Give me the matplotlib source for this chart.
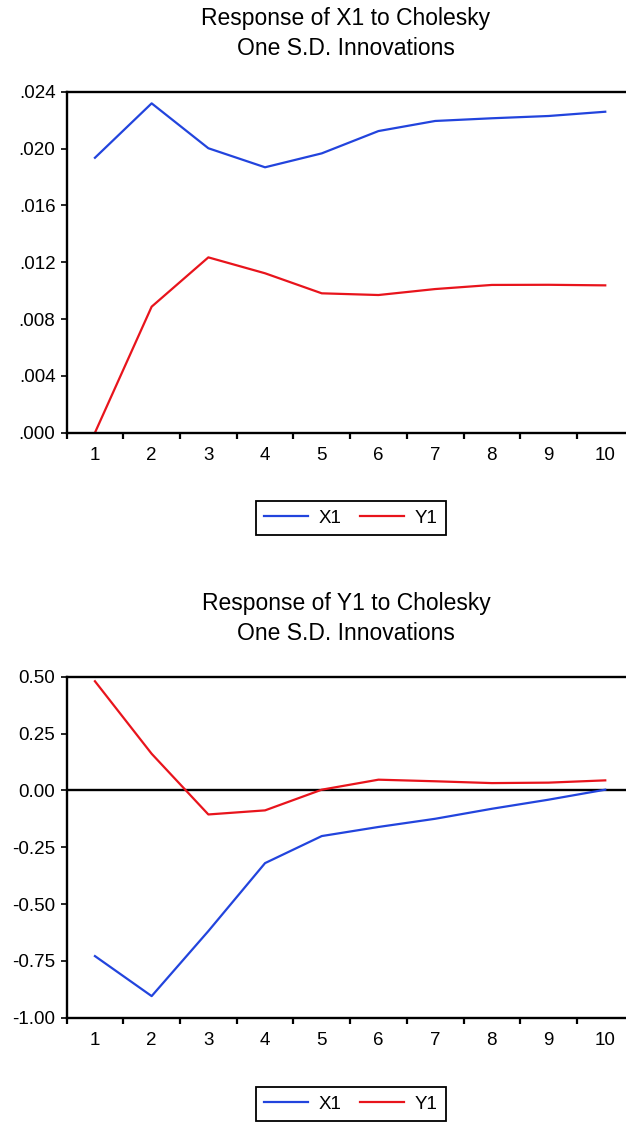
import numpy as np
import matplotlib
matplotlib.use("Agg")
import matplotlib.pyplot as plt
from matplotlib.ticker import FuncFormatter, FixedLocator

plt.rcParams['font.family'] = ['Liberation Sans', 'DejaVu Sans']

# periods
periods = np.arange(1, 11)

# response of X1
x1_to_x1 = [0.01935, 0.02318, 0.02002, 0.01868, 0.01966, 0.02123, 0.02194, 0.02213, 0.02229, 0.02259]
x1_to_y1 = [0.0000, 0.00887, 0.01234, 0.01122, 0.00981, 0.00969, 0.01011, 0.01040, 0.01041, 0.01037]

# response of Y1
y1_to_x1 = [-0.729, -0.905, -0.619, -0.320, -0.201, -0.161, -0.125, -0.081, -0.041, 0.003]
y1_to_y1 = [0.480, 0.161, -0.106, -0.088, 0.003, 0.047, 0.040, 0.032, 0.034, 0.044]

series_names = ['X1', 'Y1']
blue = '#2244dd'
red = '#e8141c'

W, H = 626, 1123
fig = plt.figure(figsize=(W / 100, H / 100), dpi=100)

left = 66.6 / W
width = 1 - left
ax_h = 341.0 / H


def fmt_top(v, pos):
    s = '%.3f' % v
    return s[1:] if s.startswith('0') else s


def fmt_bot(v, pos):
    return '%.2f' % v


def style_axes(ax, yticks, fmt):
    ax.set_xlim(0.5, 0.5 + (W - 66.6) / 56.7)
    ax.spines['right'].set_visible(False)
    for s in ['left', 'bottom', 'top']:
        ax.spines[s].set_linewidth(1.7)
    ax.xaxis.set_major_locator(FixedLocator(periods))
    ax.xaxis.set_minor_locator(FixedLocator(np.arange(0.5, 11, 1.0)))
    ax.tick_params(axis='x', which='major', length=0, pad=10.5, labelsize=13.5)
    ax.tick_params(axis='x', which='minor', length=4.5, width=1.6, direction='out')
    ax.set_yticks(yticks)
    ax.yaxis.set_major_formatter(FuncFormatter(fmt))
    ax.tick_params(axis='y', length=4.5, width=1.2, direction='out', pad=3.5, labelsize=13.5)


# top panel
ax1 = fig.add_axes([left, 1 - 432.7 / H, width, ax_h])
ax1.plot(periods, x1_to_x1, color=blue, lw=1.6, label=series_names[0])
ax1.plot(periods, x1_to_y1, color=red, lw=1.6, label=series_names[1])
ax1.set_ylim(0, 0.024)
style_axes(ax1, np.arange(0, 0.0241, 0.004), fmt_top)

# bottom panel
ax2 = fig.add_axes([left, 1 - 1017.7 / H, width, ax_h])
ax2.axhline(0, color='black', lw=1.7)
ax2.plot(periods, y1_to_x1, color=blue, lw=1.6, label=series_names[0])
ax2.plot(periods, y1_to_y1, color=red, lw=1.6, label=series_names[1])
ax2.set_ylim(-1.0, 0.5)
style_axes(ax2, np.arange(-1.0, 0.51, 0.25), fmt_bot)

cx = 346 / W
titles = [("Response of X1 to Cholesky", 25), ("One S.D. Innovations", 55),
          ("Response of Y1 to Cholesky", 610), ("One S.D. Innovations", 640)]
for txt, base in titles:
    fig.text(cx, 1 - base / H, txt, ha='center', va='baseline', fontsize=16.5)

for ax, ly in [(ax1, 518), (ax2, 1104)]:
    h, l = ax.get_legend_handles_labels()
    leg = fig.legend(h, l, loc='center', bbox_to_anchor=(351 / W, 1 - ly / H), ncol=2,
                     fontsize=13.5, frameon=True, fancybox=False, edgecolor='black',
                     framealpha=1, handlelength=2.3, handletextpad=0.6, columnspacing=1.0,
                     borderpad=0.45)
    leg.get_frame().set_linewidth(1.3)

fig.savefig('out.png', dpi=100)
